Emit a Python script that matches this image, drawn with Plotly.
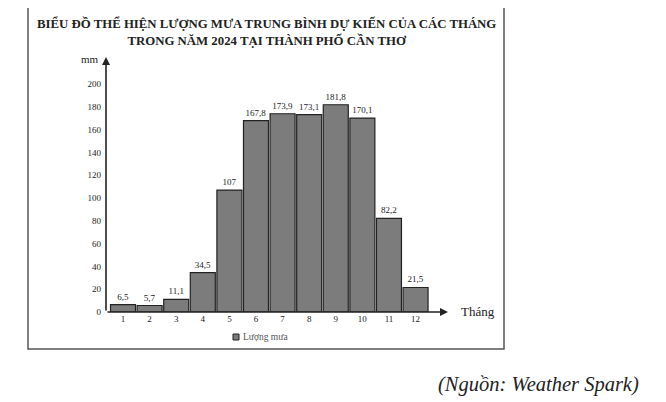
import plotly.graph_objects as go

months = list(range(1, 13))
rain = [6.5, 5.7, 11.1, 34.5, 107, 167.8, 173.9, 173.1, 181.8, 170.1, 82.2, 21.5]
rain_labels = ["6,5", "5,7", "11,1", "34,5", "107", "167,8", "173,9", "173,1", "181,8", "170,1", "82,2", "21,5"]
y_ticks = [0, 20, 40, 60, 80, 100, 120, 140, 160, 180, 200]

title_text = ("BIỂU ĐỒ THỂ HIỆN LƯỢNG MƯA TRUNG BÌNH DỰ KIẾN CỦA CÁC THÁNG"
              "<br>TRONG NĂM 2024 TẠI THÀNH PHỐ CẦN THƠ")
source_text = "(Nguồn: Weather Spark)"
legend_text = "Lượng mưa"

serif = "Liberation Serif"
ink = "#222222"

# the page body has an 8px margin, so the figure is drawn 8px in from the corner
OFF = 8
W, H = 666 - OFF, 402 - OFF
# plot area in window pixels: x 106..448, y 57..312
L, R, T, B = 106 - OFF, 666 - 448, 57 - OFF, 402 - 312
pw, ph = W - L - R, H - T - B


def px(x):
    return (x - OFF - L) / pw


def py(y):
    return (H - B - (y - OFF)) / ph


x_lo, x_hi = 0.36, 13.22
y_top = 223.7

fig = go.Figure()
fig.add_trace(go.Bar(
    x=months, y=rain, name=legend_text, showlegend=False,
    text=rain_labels, textposition="outside", cliponaxis=False,
    textfont=dict(family=serif, size=9, color=ink),
    marker=dict(color="#7c7c7c", line=dict(color=ink, width=1.2)),
    width=0.94,
))

# axes drawn as arrows
fig.add_annotation(x=x_lo, y=y_top, ax=x_lo, ay=0, xref="x", yref="y", axref="x", ayref="y",
                   text="", showarrow=True, arrowhead=2, arrowsize=1, arrowwidth=1.6, arrowcolor=ink)
fig.add_annotation(x=x_hi, y=0, ax=x_lo, ay=0, xref="x", yref="y", axref="x", ayref="y",
                   text="", showarrow=True, arrowhead=2, arrowsize=1, arrowwidth=1.6, arrowcolor=ink)

fig.add_annotation(x=px(101), y=py(59), xref="paper", yref="paper", xanchor="right", yanchor="middle",
                   text="mm", showarrow=False, font=dict(family=serif, size=11, color=ink))
fig.add_annotation(x=px(459), y=py(311), xref="paper", yref="paper", xanchor="left", yanchor="middle",
                   text="Tháng", showarrow=False, font=dict(family=serif, size=13, color=ink))
fig.add_annotation(x=px(266), y=py(32), xref="paper", yref="paper", xanchor="center", yanchor="middle",
                   text="<b>" + title_text + "</b>", showarrow=False,
                   font=dict(family=serif, size=12.8, color=ink))
fig.add_annotation(x=px(641), y=py(385), xref="paper", yref="paper", xanchor="right", yanchor="middle",
                   text="<i>" + source_text + "</i>", showarrow=False,
                   font=dict(family=serif, size=20.5, color=ink))

# legend, drawn by hand so the swatch stays small
fig.add_shape(type="rect", xref="paper", yref="paper",
              x0=px(233), x1=px(239), y0=py(340), y1=py(334),
              fillcolor="#7c7c7c", line=dict(color=ink, width=1))
fig.add_annotation(x=px(241), y=py(337), xref="paper", yref="paper", xanchor="left", yanchor="middle",
                   text=legend_text, showarrow=False, font=dict(family=serif, size=9.5, color="#555555"))

# outer frame
fig.add_shape(type="rect", xref="paper", yref="paper",
              x0=px(28), x1=px(504), y0=py(349), y1=py(7),
              line=dict(color="#555555", width=1.5))

fig.update_layout(
    width=W, height=H,
    margin=dict(l=L, r=R, t=T, b=B),
    paper_bgcolor="white", plot_bgcolor="white",
    font=dict(family=serif, color=ink),
    bargap=0.06,
)
fig.update_xaxes(range=[x_lo, x_hi], tickvals=months, ticktext=[str(m) for m in months],
                 showgrid=False, zeroline=False, showline=False, ticks="",
                 tickfont=dict(family=serif, size=9, color=ink), fixedrange=True)
fig.update_yaxes(range=[0, y_top], tickvals=y_ticks, showgrid=False, zeroline=False,
                 showline=False, ticks="", ticklabelstandoff=4,
                 tickfont=dict(family=serif, size=9, color=ink), fixedrange=True)

fig.write_html("out.html")
